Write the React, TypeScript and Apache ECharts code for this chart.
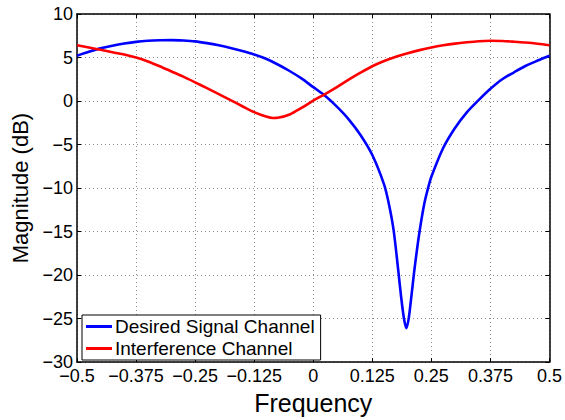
import React, { useEffect, useRef } from "react";
import * as echarts from "echarts";

const seriesNames = ["Desired Signal Channel", "Interference Channel"];

const desiredFreq = [
  -0.5, -0.475, -0.45, -0.425, -0.4, -0.375, -0.35, -0.325, -0.3, -0.275, -0.25,
  -0.225, -0.2, -0.175, -0.15, -0.125, -0.1, -0.075, -0.05, -0.025, 0, 0.025,
  0.05, 0.075, 0.1, 0.125, 0.15, 0.16, 0.17, 0.18, 0.186, 0.192, 0.197, 0.202,
  0.208, 0.215, 0.225, 0.235, 0.243, 0.25, 0.275, 0.3, 0.325, 0.35, 0.375, 0.4,
  0.425, 0.45, 0.475, 0.5,
];
const desiredMag = [
  5.2, 5.65, 6.05, 6.35, 6.6, 6.8, 6.92, 6.98, 7.0, 6.95, 6.85,
  6.65, 6.4, 6.1, 5.75, 5.35, 4.85, 4.2, 3.45, 2.6, 1.6, 0.6,
  -0.65, -2.1, -3.9, -6.2, -9.6, -11.8, -14.8, -19.5, -22.5, -25.0, -26.1, -25.0,
  -22.3, -19.0, -15.0, -11.8, -10.0, -8.7, -5.4, -3.1, -1.3, 0.1, 1.4, 2.5,
  3.3, 4.05, 4.65, 5.2,
];

const interfFreq = [
  -0.5, -0.475, -0.45, -0.425, -0.4, -0.375, -0.35, -0.325, -0.3, -0.275, -0.25,
  -0.225, -0.2, -0.175, -0.15, -0.125, -0.1, -0.085, -0.075, -0.05, -0.025, 0,
  0.025, 0.05, 0.075, 0.1, 0.125, 0.15, 0.175, 0.2, 0.225, 0.25, 0.275, 0.3,
  0.325, 0.35, 0.375, 0.4, 0.425, 0.45, 0.475, 0.5,
];
const interfMag = [
  6.4, 6.15, 5.9, 5.6, 5.35, 5.0, 4.55, 4.0, 3.4, 2.8, 2.15,
  1.48, 0.8, 0.1, -0.6, -1.28, -1.78, -1.95, -1.93, -1.55, -0.8, 0.05,
  0.8, 1.6, 2.45, 3.25, 4.0, 4.6, 5.1, 5.5, 5.85, 6.15, 6.4, 6.6,
  6.75, 6.87, 6.92, 6.9, 6.82, 6.72, 6.58, 6.4,
];

const xTicks = { min: -0.5, max: 0.5, interval: 0.125 };
const yTicks = { min: -30, max: 10, interval: 5 };

const fmt = (v: number) => String(v).replace("-", "\u2212");

export default function App() {
  const ref = useRef<HTMLDivElement>(null);
  useEffect(() => {
    if (!ref.current) return;
    const chart = echarts.init(ref.current, undefined, { renderer: "svg" });
    const font = "Liberation Sans";
    const axisLine = { show: true, onZero: false, lineStyle: { color: "#000", width: 1.5 } };
    const tick = { show: true, inside: true, length: 4, lineStyle: { color: "#000", width: 1 } };
    const split = { show: true, lineStyle: { color: "#8a8a8a", type: [1, 3] as any, width: 1 } };
    chart.setOption({
      animation: false,
      backgroundColor: "#fff",
      grid: { left: 77, right: 13.5, top: 14, bottom: 53, containLabel: false },
      legend: {
        data: seriesNames,
        orient: "vertical",
        left: 82,
        top: 315,
        icon: "rect",
        itemWidth: 26,
        itemHeight: 3,
        itemGap: 3,
        padding: [2, 6, 2, 4],
        backgroundColor: "#fff",
        borderColor: "#000",
        borderWidth: 1,
        borderRadius: 0,
        textStyle: { fontFamily: font, fontSize: 19, color: "#000", padding: [0, 0, 0, -2] },
      },
      xAxis: [
        {
          type: "value",
          ...xTicks,
          position: "bottom",
          name: "Frequency",
          nameLocation: "middle",
          nameGap: 25,
          nameTextStyle: { fontFamily: font, fontSize: 25, color: "#000" },
          axisLine,
          axisTick: tick,
          splitLine: split,
          axisLabel: { fontFamily: font, fontSize: 18, color: "#000", margin: 5, formatter: fmt },
        },
        {
          type: "value",
          ...xTicks,
          position: "top",
          axisLine,
          axisTick: tick,
          splitLine: { show: false },
          axisLabel: { show: false },
        },
      ],
      yAxis: [
        {
          type: "value",
          ...yTicks,
          position: "left",
          name: "Magnitude (dB)",
          nameLocation: "middle",
          nameGap: 40,
          nameTextStyle: { fontFamily: font, fontSize: 22, color: "#000" },
          axisLine,
          axisTick: tick,
          splitLine: split,
          axisLabel: { fontFamily: font, fontSize: 18, color: "#000", margin: 4, formatter: fmt },
        },
        {
          type: "value",
          ...yTicks,
          position: "right",
          axisLine,
          axisTick: tick,
          splitLine: { show: false },
          axisLabel: { show: false },
        },
      ],
      series: [
        {
          name: seriesNames[0],
          type: "line",
          data: desiredFreq.map((f, i) => [f, desiredMag[i]]),
          smooth: 0.3,
          showSymbol: false,
          lineStyle: { color: "#0000ff", width: 2.6 },
          itemStyle: { color: "#0000ff" },
          z: 3,
        },
        {
          name: seriesNames[1],
          type: "line",
          data: interfFreq.map((f, i) => [f, interfMag[i]]),
          smooth: 0.3,
          showSymbol: false,
          lineStyle: { color: "#ff0000", width: 2.6 },
          itemStyle: { color: "#ff0000" },
          z: 4,
        },
      ],
    });
    return () => chart.dispose();
  }, []);
  return <div ref={ref} style={{ width: 565, height: 420, position: "absolute", left: 0, top: 0 }} />;
}
